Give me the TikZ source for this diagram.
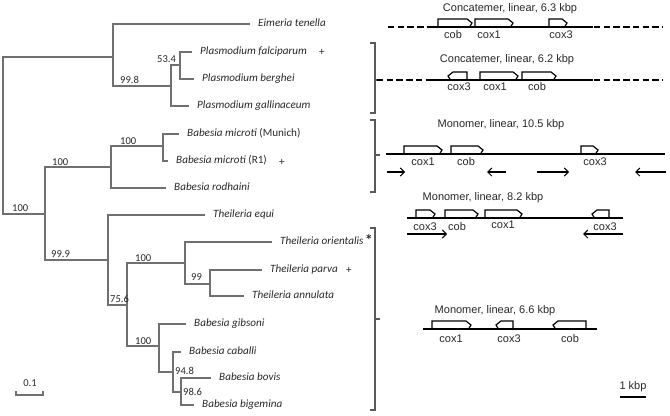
\documentclass[tikz,border=0pt]{standalone}
\usepackage{fontspec}
\setmainfont{Carlito}
\newfontfamily\mapfont{Liberation Sans}
\usetikzlibrary{arrows.meta}
\definecolor{treegray}{RGB}{112,112,112}
\definecolor{brackgray}{RGB}{90,90,90}
\definecolor{txtdark}{RGB}{40,40,40}
\newcommand\genefwd[3]{\draw[genebox] ({#1},{#3}) -- ({#1},{#3-8}) -- ({#2-5},{#3-8}) -- ({#2},{#3-4}) -- ({#2-2.5},{#3});}
\newcommand\generev[3]{\draw[genebox] ({#2},{#3}) -- ({#2},{#3-8}) -- ({#1+5},{#3-8}) -- ({#1},{#3-4}) -- ({#1+2.5},{#3});}
\begin{document}
\begin{tikzpicture}[x=0.03cm,y=-0.03cm,
  branch/.style={draw=treegray, line width=1pt},
  tobranch/.style={branch, shorten >=6.5pt},
  leaf/.style={anchor=west, inner sep=0pt, text=txtdark, font=\fontsize{9.5}{11}\selectfont\itshape, text height=7pt, text depth=2pt},
  boot/.style={anchor=west, inner sep=0pt, text=txtdark, font=\fontsize{9}{10}\selectfont, text height=6.4pt, text depth=0pt},
  plusmk/.style={anchor=west, inner sep=0pt, text=txtdark, font=\fontsize{9.5}{11}\selectfont},
  brack/.style={draw=brackgray, line width=1pt},
  mainline/.style={draw=black, line width=1.3pt},
  dashline/.style={draw=black, line width=1.3pt, dash pattern=on 5.5pt off 2.8pt},
  genebox/.style={draw=black, line width=1pt, line join=miter},
  maptitle/.style={inner sep=0pt, text=txtdark, font=\mapfont\fontsize{9.4}{11}\selectfont},
  glabel/.style={inner sep=0pt, text=txtdark, font=\mapfont\fontsize{9.4}{11}\selectfont},
  dirarrow/.style={draw=black, line width=0.9pt, -{Straight Barb[length=3.5pt,width=7pt]}}
]
\useasboundingbox (0,0) rectangle (670,415);

% ---------- tree: internal nodes ----------
\coordinate (root) at (3,135);
\coordinate (A) at (113,57);
\coordinate (Pl) at (171,86);
\coordinate (Pfb) at (180,65);
\coordinate (B) at (45,214);
\coordinate (Bm) at (111,167);
\coordinate (Bmm) at (163,146);
\coordinate (Th) at (108,260);
\coordinate (n756) at (127,305);
\coordinate (Tc) at (185,263);
\coordinate (Tpa) at (210,284);
\coordinate (Bb) at (159,346);
\coordinate (n948) at (173,372);
\coordinate (n986) at (181,392);

% ---------- leaves ----------
\node[leaf] (eim) at (258,24) {Eimeria tenella};
\node[leaf] (pfa) at (200,52) {Plasmodium falciparum};
\node[plusmk] (pfap) at (319,52) {+};
\node[leaf] (pbe) at (202,79) {Plasmodium berghei};
\node[leaf] (pga) at (197,106) {Plasmodium gallinaceum};
\node[leaf] (bmm) at (187,134) {Babesia microti {\upshape(Munich)}};
\node[leaf] (bmr) at (176,161) {Babesia microti {\upshape(R1)}};
\node[plusmk] (bmrp) at (279,162) {+};
\node[leaf] (bro) at (174,188) {Babesia rodhaini};
\node[leaf] (teq) at (213,215) {Theileria equi};
\node[leaf] (tor) at (280,242) {Theileria orientalis};
\node[plusmk, font=\fontsize{13}{13}\selectfont\bfseries] (tors) at (365,240) {*};
\node[leaf] (tpa) at (270,270) {Theileria parva};
\node[plusmk] (tpap) at (346,270) {+};
\node[leaf] (tan) at (252,296) {Theileria annulata};
\node[leaf] (bgi) at (194,324) {Babesia gibsoni};
\node[leaf] (bca) at (189,352) {Babesia caballi};
\node[leaf] (bbo) at (219,378) {Babesia bovis};
\node[leaf] (bbi) at (202,405) {Babesia bigemina};

% ---------- branches ----------
\draw[branch] (root) |- (A);
\draw[branch] (root) |- (B);
\draw[tobranch] (A) |- (eim.west);
\draw[branch] (A) |- (Pl);
\draw[branch] (Pl) |- (Pfb);
\draw[tobranch] (Pl) |- (pga.west);
\draw[tobranch] (Pfb) |- (pfa.west);
\draw[tobranch] (Pfb) |- (pbe.west);
\draw[branch] (B) |- (Bm);
\draw[branch] (B) |- (Th);
\draw[branch] (Bm) |- (Bmm);
\draw[tobranch] (Bm) |- (bro.west);
\draw[tobranch] (Bmm) |- (bmm.west);
\draw[tobranch] (Bmm) |- (bmr.west);
\draw[tobranch] (Th) |- (teq.west);
\draw[branch] (Th) |- (n756);
\draw[branch] (n756) |- (Tc);
\draw[branch] (n756) |- (Bb);
\draw[tobranch] (Tc) |- (tor.west);
\draw[branch] (Tc) |- (Tpa);
\draw[tobranch] (Tpa) |- (tpa.west);
\draw[tobranch] (Tpa) |- (tan.west);
\draw[tobranch] (Bb) |- (bgi.west);
\draw[branch] (Bb) |- (n948);
\draw[tobranch] (n948) |- (bca.west);
\draw[branch] (n948) |- (n986);
\draw[tobranch] (n986) |- (bbo.west);
\draw[tobranch] (n986) |- (bbi.west);

% ---------- bootstrap values ----------
\node[boot] (b1) at (120,80) {99.8};
\node[boot] (b2) at (157,59) {53.4};
\node[boot] (b3) at (120,141) {100};
\node[boot] (b4) at (52,162) {100};
\node[boot] (b5) at (12,208) {100};
\node[boot] (b6) at (51,254) {99.9};
\node[boot] (b7) at (135,258) {100};
\node[boot] (b8) at (191,277) {99};
\node[boot] (b9) at (110,299) {75.6};
\node[boot] (b10) at (135,341) {100};
\node[boot] (b11) at (175,371) {94.8};
\node[boot] (b12) at (183,392) {98.6};

% ---------- tree scale ----------
\coordinate (sbL) at (16,395);
\coordinate (sbR) at (43,395);
\draw[branch] ([yshift=3pt]sbL) -- (sbL) -- (sbR) -- ([yshift=3pt]sbR);
\node[boot, anchor=center] (sbt) at (30,383) {0.1};

% ---------- brackets ----------
\draw[brack] (370,43) -- (375,43) -- (375,113) -- (370,113);
\draw[brack] (375,80) -- (380,80);
\draw[brack] (370,120) -- (375,120) -- (375,192) -- (370,192);
\draw[brack] (375,155) -- (380,155);
\draw[brack] (370,228) -- (375,228) -- (375,410) -- (370,410);
\draw[brack] (375,319) -- (380,319);

% ---------- map 1 ----------
\node[maptitle] (t1) at (510,9) {Concatemer, linear, 6.3 kbp};
\draw[dashline] (388,27) -- (432,27);
\draw[mainline] (430,27) -- (593,27);
\draw[dashline] (594,27) -- (663,27);
\genefwd{438}{472}{27}
\genefwd{475}{513}{27}
\genefwd{549}{567}{27}
\node[glabel] (m1a) at (453,35) {cob};
\node[glabel] (m1b) at (489,35) {cox1};
\node[glabel] (m1c) at (561,35) {cox3};

% ---------- map 2 ----------
\node[maptitle] (t2) at (507,60) {Concatemer, linear, 6.2 kbp};
\draw[dashline] (377,80) -- (430,80);
\draw[mainline] (428,80) -- (593,80);
\draw[dashline] (594,80) -- (663,80);
\generev{448}{467}{80}
\genefwd{480}{518}{80}
\genefwd{522}{556}{80}
\node[glabel] (m2a) at (459,87) {cox3};
\node[glabel] (m2b) at (495,87) {cox1};
\node[glabel] (m2c) at (537,87) {cob};

% ---------- map 3 ----------
\node[maptitle] (t3) at (501,125) {Monomer, linear, 10.5 kbp};
\draw[mainline] (386,154) -- (665,154);
\genefwd{404}{442}{154}
\genefwd{451}{483}{154}
\genefwd{581}{598}{154}
\node[glabel] (m3a) at (423,162) {cox1};
\node[glabel] (m3b) at (466,162) {cob};
\node[glabel] (m3c) at (595,162) {cox3};
\coordinate (a3s1) at (387,172); \coordinate (a3e1) at (405,172);
\coordinate (a3s2) at (506,172); \coordinate (a3e2) at (487,172);
\coordinate (a3s3) at (537,172); \coordinate (a3e3) at (569,172);
\coordinate (a3s4) at (666,172); \coordinate (a3e4) at (635,172);
\draw[dirarrow] (a3s1) -- (a3e1);
\draw[dirarrow] (a3s2) -- (a3e2);
\draw[dirarrow] (a3s3) -- (a3e3);
\draw[dirarrow] (a3s4) -- (a3e4);

% ---------- map 4 ----------
\node[maptitle] (t4) at (483,198) {Monomer, linear, 8.2 kbp};
\draw[mainline] (407,218) -- (623,218);
\genefwd{416}{435}{218}
\genefwd{445}{478}{218}
\genefwd{485}{522}{218}
\generev{592}{609}{218}
\node[glabel] (m4a) at (425,227) {cox3};
\node[glabel] (m4b) at (457,227) {cob};
\node[glabel] (m4c) at (503,225) {cox1};
\node[glabel] (m4d) at (605,227) {cox3};
\coordinate (a4s1) at (407,234); \coordinate (a4e1) at (447,234);
\coordinate (a4s2) at (623,234); \coordinate (a4e2) at (583,234);
\draw[dirarrow] (a4s1) -- (a4e1);
\draw[dirarrow] (a4s2) -- (a4e2);

% ---------- map 5 ----------
\node[maptitle] (t5) at (495,311) {Monomer, linear, 6.6 kbp};
\draw[mainline] (423,329) -- (597,329);
\genefwd{432}{471}{329}
\generev{496}{513}{329}
\generev{553}{586}{329}
\node[glabel] (m5a) at (451,339) {cox1};
\node[glabel] (m5b) at (509,339) {cox3};
\node[glabel] (m5c) at (570,339) {cob};

% ---------- kbp scale ----------
\coordinate (kbL) at (620,397);
\coordinate (kbR) at (646,397);
\draw[draw=black, line width=1.7pt] (kbL) -- (kbR);
\node[glabel] (kbt) at (633,387) {1 kbp};
\end{tikzpicture}
\end{document}
